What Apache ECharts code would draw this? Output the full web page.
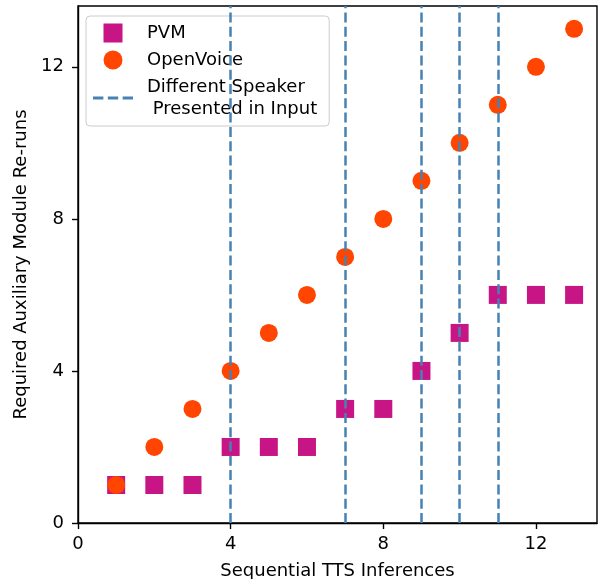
<!DOCTYPE html>
<html>
<head>
<meta charset="utf-8">
<script src="https://cdn.jsdelivr.net/npm/echarts@6/dist/echarts.min.js"></script>
<style>
html,body{margin:0;padding:0;background:#fff;}
#chart{width:599px;height:579px;}
</style>
</head>
<body>
<div id="chart"></div>
<script>
const inferences = [1,2,3,4,5,6,7,8,9,10,11,12,13];
const pvmReruns = [1,1,1,2,2,2,3,3,4,5,6,6,6];
const openVoiceReruns = [1,2,3,4,5,6,7,8,9,10,11,12,13];
const speakerChanges = [4,7,9,10,11];
const axisTicks = [0,4,8,12];

const FONT = 'DejaVu Sans';
const SPEAKER_NAME = 'Different Speaker\n Presented in Input';

const chart = echarts.init(document.getElementById('chart'), null, {renderer:'canvas'});

const axisCommon = {
  type: 'value',
  min: 0,
  max: 13.6,
  interval: 4,
  splitLine: {show:false},
  axisLine: {show:true, onZero:false, lineStyle:{color:'#000', width:1.4}},
  axisTick: {show:true, length:6, inside:false, customValues: axisTicks, lineStyle:{color:'#000', width:1.4}},
  nameLocation: 'middle',
  nameTextStyle: {fontFamily: FONT, fontSize: 18, color:'#000'}
};

chart.setOption({
  animation: false,
  backgroundColor: '#fff',
  textStyle: {fontFamily: FONT},
  grid: {left:78, right:2, top:6, bottom:56, outerBoundsMode:'none', containLabel:false, show:true, borderColor:'#000', borderWidth:1.4, backgroundColor:'transparent'},
  xAxis: Object.assign({}, axisCommon, {
    name: 'Sequential TTS Inferences',
    nameGap: 39,
    axisLabel: {fontFamily: FONT, fontSize:18, color:'#000', margin:12, customValues: axisTicks}
  }),
  yAxis: Object.assign({}, axisCommon, {
    name: 'Required Auxiliary Module Re-runs',
    nameGap: 44,
    nameRotate: 90,
    axisLabel: {fontFamily: FONT, fontSize:18, color:'#000', margin:14, customValues: axisTicks}
  }),
  legend: {
    orient: 'vertical',
    left: 86,
    top: 16,
    padding: [6, 12, 6, 7],
    itemGap: 5,
    itemWidth: 40,
    itemHeight: 19,
    backgroundColor: 'rgba(255,255,255,0.8)',
    borderColor: '#cccccc',
    borderWidth: 1,
    borderRadius: 4,
    textStyle: {fontFamily: FONT, fontSize: 18, color:'#000', lineHeight: 22, padding:[0,0,0,9]},
    data: [
      {name:'PVM', icon:'path://M0,0h10v10h-10z'},
      {name:'OpenVoice', icon:'circle'},
      {name: SPEAKER_NAME, icon:'path://M0,0h10v3h-10z M14.3,0h10v3h-10z M28.6,0h10v3h-10z', itemStyle:{color:'#4682b4'}}
    ]
  },
  series: [
    {
      name: SPEAKER_NAME,
      type: 'line',
      z: 1,
      data: [],
      itemStyle: {color:'#4682b4'},
      lineStyle: {color:'#4682b4'},
      markLine: {
        silent: true,
        symbol: ['none','none'],
        label: {show:false},
        lineStyle: {color:'#4682b4', width:2.5, type:[10,4.3]},
        data: speakerChanges.map(v => ({xAxis: v}))
      }
    },
    {
      name: 'PVM',
      type: 'scatter',
      z: 2,
      symbol: 'rect',
      symbolSize: 18,
      itemStyle: {color:'#c71585', opacity:1},
      data: inferences.map((x,i) => [x, pvmReruns[i]])
    },
    {
      name: 'OpenVoice',
      type: 'scatter',
      z: 3,
      symbol: 'circle',
      symbolSize: 18,
      itemStyle: {color:'#ff4500', opacity:1},
      data: inferences.map((x,i) => [x, openVoiceReruns[i]])
    }
  ]
});
</script>
</body>
</html>
